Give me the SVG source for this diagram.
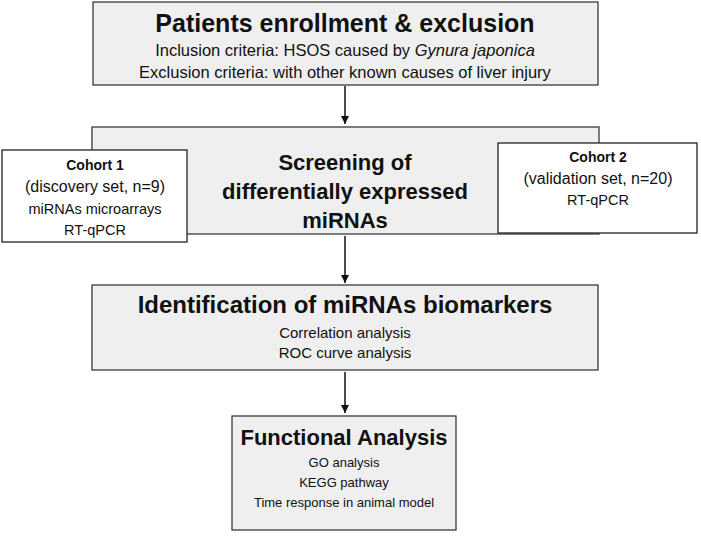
<svg xmlns="http://www.w3.org/2000/svg" width="701" height="550" viewBox="0 0 701 550">
<style>
.box{fill:#efefef;stroke:#3a3a3a;stroke-width:1.3}
.wbox{fill:#fff;stroke:#222;stroke-width:1.3}
text{font-family:"Liberation Sans",Arial,sans-serif;fill:#111;text-anchor:middle}
.h{font-weight:bold;font-size:22px}
.t{font-size:14.5px}
.s{font-size:13px}
.c{font-weight:bold;font-size:14px}
.m{font-size:16px}
.ln{stroke:#111;stroke-width:1.5;fill:none}
</style>
<defs><marker id="a" markerWidth="10" markerHeight="10" refX="9" refY="5" orient="auto" markerUnits="userSpaceOnUse"><path d="M1,1 L9,5 L1,9 z" fill="#111"/></marker></defs>
<rect width="701" height="550" fill="#fff"/>
<g id="connectors">
<line class="ln" x1="345" y1="86" x2="345" y2="124" marker-end="url(#a)"/>
<line class="ln" x1="345" y1="236" x2="345" y2="283" marker-end="url(#a)"/>
<line class="ln" x1="345" y1="372" x2="345" y2="413" marker-end="url(#a)"/>
</g>
<g id="n1"><rect class="box" x="93" y="2" width="505" height="83"/>
<text class="h" x="345" y="32" style="font-size:25px">Patients enrollment &amp; exclusion</text>
<text class="t" x="345" y="56" style="font-size:16.5px">Inclusion criteria: HSOS caused by <tspan font-style="italic">Gynura japonica</tspan></text>
<text class="t" x="345" y="78" style="font-size:16.5px">Exclusion criteria: with other known causes of liver injury</text></g>
<g id="n2"><rect class="box" x="92" y="127" width="507" height="107"/>
<text class="h" x="345" y="170">Screening of</text>
<text class="h" x="345" y="199">differentially expressed</text>
<text class="h" x="345" y="228">miRNAs</text></g>
<g id="c1"><rect class="wbox" x="2" y="150" width="185" height="92"/>
<text class="c" x="95" y="170">Cohort 1</text>
<text class="m" x="95" y="192">(discovery set, n=9)</text>
<text class="t" x="95" y="214">miRNAs microarrays</text>
<text class="t" x="95" y="235">RT-qPCR</text></g>
<g id="c2"><rect class="wbox" x="498" y="143" width="199" height="90"/>
<text class="c" x="598" y="162">Cohort 2</text>
<text class="m" x="598" y="184">(validation set, n=20)</text>
<text class="t" x="598" y="205">RT-qPCR</text></g>
<g id="n3"><rect class="box" x="92" y="285" width="506" height="85"/>
<text class="h" x="345" y="313" style="font-size:24px">Identification of miRNAs biomarkers</text>
<text class="s" x="345" y="338" style="font-size:15px">Correlation analysis</text>
<text class="s" x="345" y="358" style="font-size:15px">ROC curve analysis</text></g>
<g id="n4"><rect class="box" x="232" y="416" width="224" height="114"/>
<text class="h" x="344" y="445">Functional Analysis</text>
<text class="s" x="344" y="467">GO analysis</text>
<text class="s" x="344" y="487">KEGG pathway</text>
<text class="s" x="344" y="507">Time response in animal model</text></g>
</svg>
